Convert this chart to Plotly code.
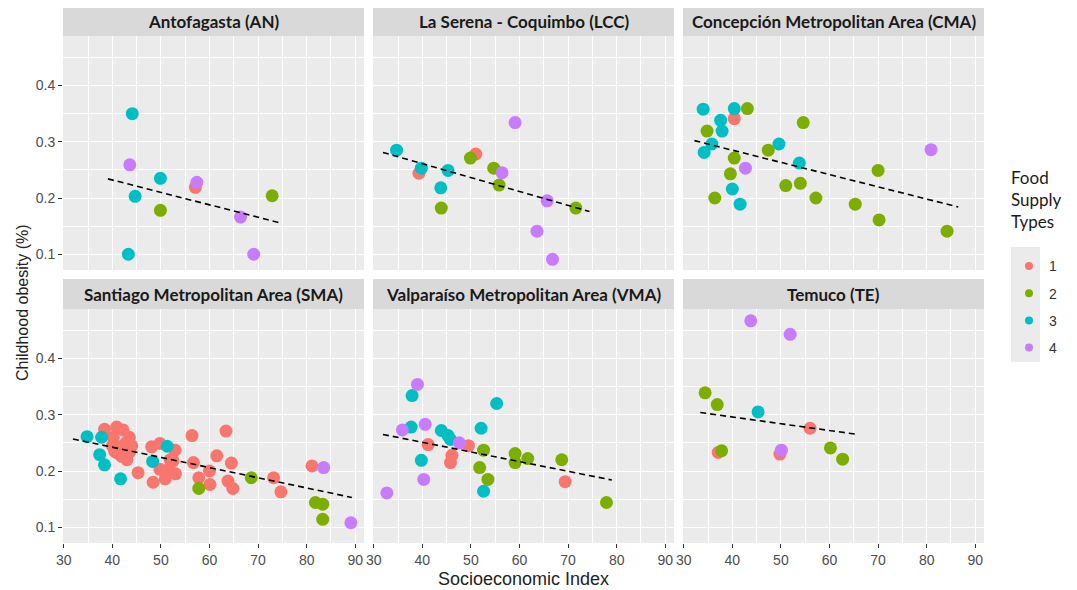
import plotly.graph_objects as go

# ---------------- DATA ----------------
panel_names = [
    "Antofagasta (AN)",
    "La Serena - Coquimbo (LCC)",
    "Concepción Metropolitan Area (CMA)",
    "Santiago Metropolitan Area (SMA)",
    "Valparaíso Metropolitan Area (VMA)",
    "Temuco (TE)",
]

an_x = [44.1, 43.6, 49.9, 57.1, 57.4, 44.7, 49.9, 72.9, 66.4, 43.3, 69.1]
an_y = [0.350, 0.259, 0.235, 0.219, 0.228, 0.203, 0.178, 0.204, 0.166, 0.100, 0.100]
an_t = [3, 4, 3, 1, 4, 3, 2, 2, 4, 3, 4]

lcc_x = [34.7, 39.3, 39.8, 45.3, 43.8, 43.9, 49.9, 51.0, 54.7, 56.4, 55.8, 59.1, 65.7, 71.6, 63.6, 66.8]
lcc_y = [0.285, 0.244, 0.253, 0.249, 0.218, 0.182, 0.271, 0.278, 0.253, 0.245, 0.223, 0.334, 0.195, 0.182, 0.141, 0.091]
lcc_t = [3, 1, 3, 3, 3, 2, 2, 1, 2, 4, 2, 4, 4, 2, 4, 4]

cma_x = [34.0, 40.4, 43.1, 40.4, 37.6, 37.9, 34.8, 54.6, 35.8, 34.2, 47.4, 49.6, 40.4, 42.7,
         53.8, 39.6, 51.0, 54.0, 40.0, 36.4, 41.6, 57.2, 65.3, 70.0, 70.2, 80.9, 84.2]
cma_y = [0.358, 0.359, 0.359, 0.341, 0.338, 0.319, 0.319, 0.334, 0.296, 0.281, 0.285, 0.296, 0.271, 0.253,
         0.262, 0.243, 0.222, 0.226, 0.216, 0.200, 0.189, 0.200, 0.189, 0.249, 0.161, 0.286, 0.141]
cma_t = [3, 3, 2, 1, 3, 3, 2, 2, 3, 3, 2, 3, 2, 4,
         3, 2, 2, 2, 3, 2, 3, 2, 2, 2, 2, 4, 2]

sma_x = [38.4, 40.9, 42.2, 40.2, 42.9, 41.6, 43.6, 41.9, 45.3, 48.1, 49.8, 52.9, 49.8, 51.6,
         50.9, 48.4, 56.4, 51.9, 40.5, 43.0, 42.5, 41.0, 44.0, 43.5, 40.0, 56.7, 61.5, 64.5,
         60.0, 57.8, 60.1, 63.8, 64.8, 63.4, 73.2, 74.7, 81.1, 52.5, 53.0,
         34.8, 37.8, 37.4, 38.4, 41.7, 51.3, 48.3,
         57.8, 68.6, 81.8, 83.3, 83.3,
         83.5, 89.1]
sma_y = [0.274, 0.278, 0.273, 0.260, 0.251, 0.243, 0.234, 0.226, 0.197, 0.243, 0.249, 0.237, 0.203, 0.203,
         0.186, 0.180, 0.263, 0.220, 0.235, 0.220, 0.245, 0.232, 0.245, 0.260, 0.245, 0.215, 0.227, 0.214,
         0.200, 0.188, 0.176, 0.182, 0.169, 0.271, 0.188, 0.163, 0.209, 0.218, 0.195,
         0.261, 0.260, 0.229, 0.211, 0.186, 0.244, 0.217,
         0.169, 0.188, 0.144, 0.141, 0.114,
         0.206, 0.108]
sma_t = [1] * 39 + [3] * 7 + [2] * 5 + [4] * 2

vma_x = [39.0, 37.9, 55.3, 35.9, 37.7, 40.6, 43.9, 45.3, 45.8, 47.6, 49.5, 41.2, 52.1, 52.6,
         46.1, 45.8, 39.8, 51.8, 53.5, 40.3, 52.6, 59.1, 59.1, 61.7, 68.7, 69.4, 77.9, 32.7]
vma_y = [0.354, 0.334, 0.320, 0.273, 0.278, 0.283, 0.272, 0.263, 0.256, 0.250, 0.245, 0.247, 0.276, 0.237,
         0.228, 0.215, 0.219, 0.206, 0.185, 0.185, 0.164, 0.231, 0.215, 0.222, 0.220, 0.181, 0.144, 0.161]
vma_t = [4, 3, 3, 4, 3, 4, 3, 3, 3, 4, 1, 1, 3, 2,
         1, 1, 3, 2, 2, 4, 3, 2, 2, 2, 2, 1, 2, 4]

te_x = [43.8, 51.9, 34.4, 36.9, 45.3, 56.0, 37.8, 37.1, 50.1, 49.8, 60.2, 62.7]
te_y = [0.467, 0.443, 0.339, 0.318, 0.305, 0.276, 0.236, 0.233, 0.237, 0.230, 0.241, 0.221]
te_t = [4, 4, 2, 2, 3, 1, 2, 1, 4, 1, 2, 2]

# dashed trend lines: start / end (Socioeconomic Index, obesity)
trend_x0 = [39.1, 31.9, 32.2, 31.9, 31.9, 33.4]
trend_x1 = [74.9, 74.4, 86.5, 89.3, 79.0, 65.8]
trend_y0 = [0.234, 0.281, 0.302, 0.257, 0.265, 0.304]
trend_y1 = [0.155, 0.176, 0.184, 0.153, 0.184, 0.265]

type_labels = ["1", "2", "3", "4"]
type_colors = ["#F8766D", "#7CAE00", "#00BFC4", "#C77CFF"]

# ---------------- FIGURE ----------------
OFF = 8                      # default page (body) margin of the html page
W, H = 1077 - OFF, 590 - OFF


def fx(px):
    return (px - OFF) / W


def fy(py):
    return 1 - (py - OFF) / H


col_px = [(63, 364), (373, 674), (683, 984)]
row_px = [(36, 270), (309, 543)]
strip_px = [(6, 36), (279, 309)]
XR = [29.85, 91.8]
YR = [0.072, 0.488]

panels = [
    (an_x, an_y, an_t), (lcc_x, lcc_y, lcc_t), (cma_x, cma_y, cma_t),
    (sma_x, sma_y, sma_t), (vma_x, vma_y, vma_t), (te_x, te_y, te_t),
]

fig = go.Figure()
layout = {}
shapes = []
annotations = []
tickfont = dict(family="Liberation Sans", size=14, color="#4D4D4D")

for i, (xs, ys, ts) in enumerate(panels):
    r, c = divmod(i, 3)
    sfx = "" if i == 0 else str(i + 1)
    for k, lab in enumerate(type_labels):
        tnum = k + 1
        px_ = [x for x, t in zip(xs, ts) if t == tnum]
        py_ = [y for y, t in zip(ys, ts) if t == tnum]
        if not px_:
            continue
        fig.add_trace(go.Scatter(
            x=px_, y=py_, mode="markers", xaxis="x" + sfx, yaxis="y" + sfx,
            marker=dict(size=13, color=type_colors[k], line=dict(width=0)),
            showlegend=False, hoverinfo="x+y"))
    fig.add_trace(go.Scatter(
        x=[trend_x0[i], trend_x1[i]], y=[trend_y0[i], trend_y1[i]],
        mode="lines", xaxis="x" + sfx, yaxis="y" + sfx,
        line=dict(color="black", width=1.6, dash="6px,4px"), showlegend=False))

    c0, c1 = col_px[c]
    t0, t1 = row_px[r]
    layout["xaxis" + sfx] = dict(
        domain=[fx(c0), fx(c1)], range=XR, anchor="y" + sfx, automargin=False,
        tick0=30, dtick=10, showticklabels=(r == 1),
        ticks="outside" if r == 1 else "", ticklen=4, tickcolor="#333333", tickwidth=1,
        tickfont=tickfont, showgrid=True, gridcolor="white", gridwidth=1.3,
        minor=dict(tick0=0, dtick=5, showgrid=True, gridcolor="white", gridwidth=0.6),
        zeroline=False, showline=False, fixedrange=True)
    layout["yaxis" + sfx] = dict(
        domain=[fy(t1), fy(t0)], range=YR, anchor="x" + sfx, automargin=False,
        tick0=0, dtick=0.1, tickformat=".1f", showticklabels=(c == 0),
        ticks="outside" if c == 0 else "", ticklen=4, tickcolor="#333333", tickwidth=1,
        tickfont=tickfont, showgrid=True, gridcolor="white", gridwidth=1.3,
        minor=dict(tick0=0, dtick=0.05, showgrid=True, gridcolor="white", gridwidth=0.6),
        zeroline=False, showline=False, fixedrange=True)

    s0, s1 = strip_px[r]
    shapes.append(dict(type="rect", xref="paper", yref="paper",
                       x0=fx(c0), x1=fx(c1), y0=fy(s1), y1=fy(s0),
                       fillcolor="#D9D9D9", line=dict(width=0), layer="below"))
    annotations.append(dict(text="<b>" + panel_names[i] + "</b>", xref="paper", yref="paper",
                            x=fx((c0 + c1) / 2), y=fy((s0 + s1) / 2),
                            xanchor="center", yanchor="middle", showarrow=False,
                            font=dict(family="Lato", size=17, color="#1A1A1A")))

# legend entries
for k, lab in enumerate(type_labels):
    fig.add_trace(go.Scatter(x=[None], y=[None], mode="markers", name=lab,
                             marker=dict(size=8, color=type_colors[k]),
                             legendgroup=lab, showlegend=True))

# legend key background
shapes.append(dict(type="rect", xref="paper", yref="paper",
                   x0=fx(1011), x1=fx(1040), y0=fy(362), y1=fy(247),
                   fillcolor="#EBEBEB", line=dict(width=0), layer="below"))

# axis titles
annotations.append(dict(text="Socioeconomic Index", xref="paper", yref="paper",
                        x=fx(523), y=fy(579), xanchor="center", yanchor="middle",
                        showarrow=False, font=dict(family="Liberation Sans", size=18, color="#222222")))
annotations.append(dict(text="Childhood obesity (%)", xref="paper", yref="paper",
                        x=fx(22), y=fy(303), xanchor="center", yanchor="middle",
                        textangle=-90, showarrow=False,
                        font=dict(family="Liberation Sans", size=16, color="#222222")))

fig.update_layout(
    **layout,
    width=W, height=H,
    margin=dict(l=0, r=0, t=0, b=0, autoexpand=False),
    paper_bgcolor="white", plot_bgcolor="#EBEBEB",
    shapes=shapes, annotations=annotations,
    legend=dict(x=fx(1009), y=fy(162), xanchor="left", yanchor="top",
                bgcolor="rgba(0,0,0,0)", tracegroupgap=6,
                title=dict(text="Food<br>Supply<br>Types<br> ",
                           font=dict(family="Lato", size=17, color="#1A1A1A")),
                font=dict(family="Liberation Sans", size=14, color="#333333")),
    showlegend=True,
)

fig.write_html("out.html")
